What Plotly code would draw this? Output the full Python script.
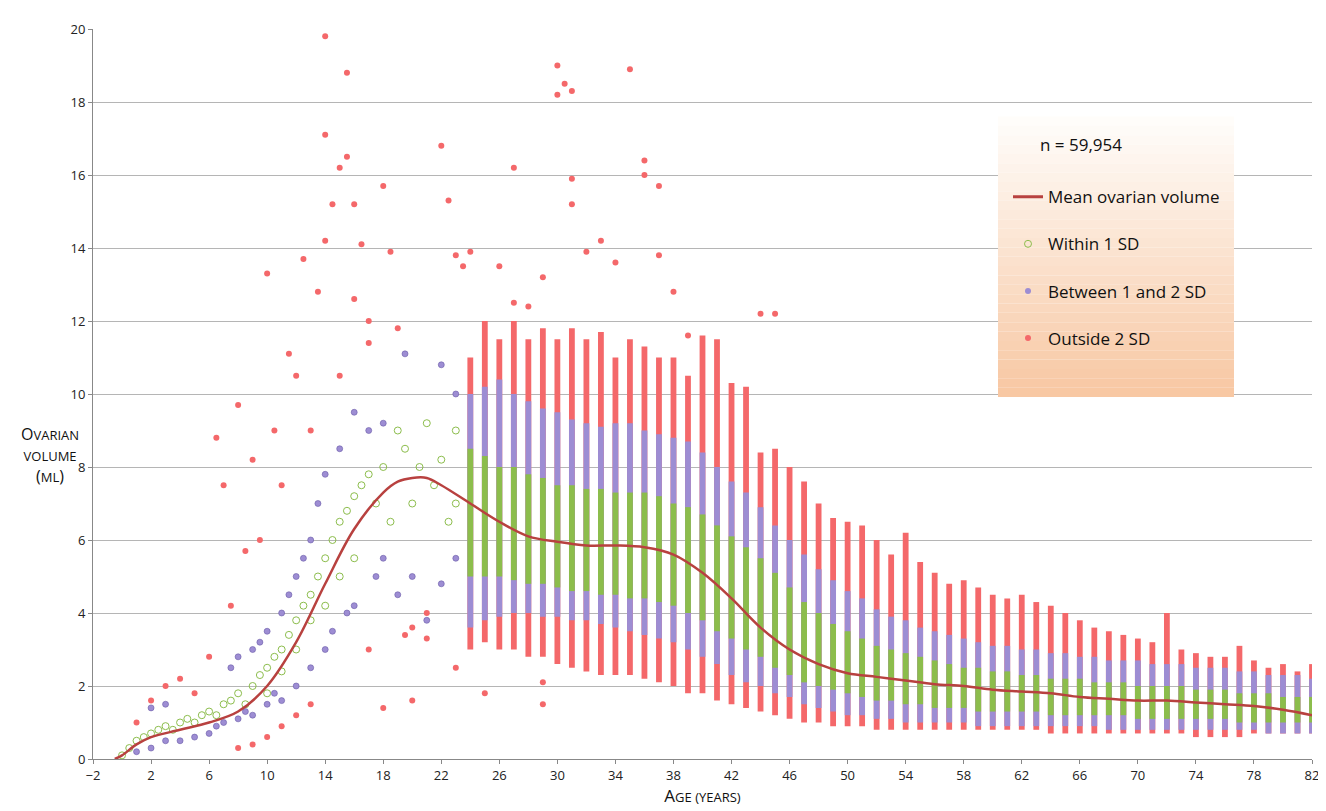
import plotly.graph_objects as go

mean_age = [-0.5,0,1,2,4,6,8,10,12,14,16,18,19,20,21,22,24,26,28,30,32,34,36,38,40,42,44,46,48,50,52,54,56,58,60,62,64,66,68,70,72,74,76,78,80,82]
mean_vol = [0,0.1,0.4,0.6,0.8,1.0,1.3,2.0,3.2,4.8,6.3,7.3,7.6,7.7,7.7,7.5,7.0,6.5,6.1,5.95,5.85,5.85,5.8,5.6,5.1,4.4,3.6,3.0,2.6,2.35,2.25,2.15,2.05,2.0,1.9,1.85,1.8,1.7,1.65,1.6,1.6,1.55,1.5,1.45,1.35,1.2]

col_age = list(range(24, 83))
green_lo = [5.0,5.0,5.0,4.9,4.8,4.8,4.7,4.6,4.6,4.5,4.5,4.4,4.4,4.3,4.2,4.0,3.8,3.5,3.3,3.0,2.8,2.5,2.3,2.1,2.0,1.9,1.8,1.7,1.6,1.6,1.5,1.5,1.4,1.4,1.4,1.3,1.3,1.3,1.3,1.3,1.2,1.2,1.2,1.2,1.2,1.2,1.1,1.1,1.1,1.1,1.1,1.1,1.1,1.0,1.0,1.0,1.0,1.0,1.0]
green_hi = [8.5,8.3,8.0,8.0,7.8,7.7,7.5,7.5,7.4,7.4,7.3,7.3,7.3,7.2,7.0,6.9,6.7,6.4,6.1,5.8,5.5,5.1,4.7,4.3,4.0,3.7,3.5,3.3,3.1,3.0,2.9,2.8,2.7,2.6,2.5,2.5,2.4,2.4,2.3,2.3,2.2,2.2,2.2,2.1,2.1,2.1,2.0,2.0,2.0,2.0,1.9,1.9,1.9,1.8,1.8,1.8,1.7,1.7,1.7]
purple_lo = [3.6,3.8,3.9,4.0,4.0,3.9,3.9,3.8,3.8,3.7,3.6,3.5,3.4,3.3,3.2,3.0,2.8,2.6,2.3,2.1,2.0,1.8,1.7,1.5,1.4,1.3,1.2,1.2,1.1,1.1,1.0,1.0,1.0,1.0,1.0,0.9,0.9,0.9,0.9,0.9,0.9,0.9,0.9,0.9,0.8,0.8,0.8,0.8,0.8,0.8,0.8,0.8,0.8,0.8,0.8,0.7,0.7,0.7,0.7]
purple_hi = [10.0,10.2,10.4,10.0,9.8,9.6,9.5,9.3,9.2,9.1,9.2,9.2,9.0,8.9,8.8,8.7,8.4,8.0,7.6,7.3,6.9,6.4,6.0,5.6,5.2,4.9,4.6,4.4,4.1,3.9,3.8,3.6,3.5,3.4,3.3,3.2,3.1,3.1,3.0,3.0,2.9,2.9,2.8,2.8,2.7,2.7,2.7,2.6,2.6,2.6,2.5,2.5,2.5,2.4,2.4,2.3,2.3,2.3,2.2]
red_lo = [3.0,3.2,3.0,3.0,2.8,2.8,2.6,2.5,2.4,2.3,2.3,2.3,2.2,2.1,2.0,1.8,1.8,1.6,1.5,1.4,1.3,1.2,1.1,1.0,1.0,0.9,0.9,0.9,0.8,0.8,0.8,0.8,0.8,0.8,0.8,0.8,0.8,0.8,0.8,0.8,0.7,0.7,0.7,0.7,0.7,0.7,0.7,0.7,0.7,0.7,0.6,0.6,0.6,0.6,0.7,0.7,0.7,0.7,0.7]
red_hi = [11.0,12.0,11.5,12.0,11.5,11.8,11.5,11.8,11.5,11.7,11.0,11.5,11.3,11.0,11.0,10.5,11.6,11.5,10.3,10.2,8.4,8.5,8.0,7.6,7.0,6.6,6.5,6.4,6.0,5.6,6.2,5.4,5.1,4.8,4.9,4.7,4.5,4.4,4.5,4.3,4.2,4.0,3.8,3.6,3.5,3.4,3.3,3.2,4.0,3.0,2.9,2.8,2.8,3.1,2.7,2.5,2.6,2.4,2.6]

green_x = [0,0.5,1,1.5,2,2.5,3,3.5,4,4.5,5,5.5,6,6.5,7,7.5,8,8.5,9,9.5,10,10,10.5,11,11,11.5,12,12,12.5,13,13,13.5,14,14,14.5,15,15,15.5,16,16,16.5,17,17.5,18,18.5,19,19.5,20,20.5,21,21.5,22,22.5,23,23]
green_y = [0.1,0.3,0.5,0.6,0.7,0.8,0.9,0.8,1.0,1.1,1.0,1.2,1.3,1.2,1.5,1.6,1.8,1.5,2.0,2.3,2.5,1.8,2.8,3.0,2.4,3.4,3.8,3.0,4.2,4.5,3.8,5.0,5.5,4.2,6.0,6.5,5.0,6.8,7.2,5.5,7.5,7.8,7.0,8.0,6.5,9.0,8.5,7.0,8.0,9.2,7.5,8.2,6.5,9.0,7.0]
purple_x = [1,2,3,4,5,6,6.5,7,7.5,8,8,8.5,9,9,9.5,10,10,10.5,11,11,11.5,12,12,12.5,13,13,13.5,14,14,14.5,15,15.5,16,16,17,17.5,18,18,19,19.5,20,21,22,22,23,23,3,2]
purple_y = [0.2,0.3,0.5,0.5,0.6,0.7,0.9,1.0,2.5,1.1,2.8,1.3,3.0,1.2,3.2,1.5,3.5,1.8,4.0,1.6,4.5,2.0,5.0,5.5,2.5,6.0,7.0,3.0,7.8,3.5,8.5,4.0,9.5,4.2,9.0,5.0,9.2,5.5,4.5,11.1,5.0,3.8,10.8,4.8,5.5,10.0,1.5,1.4]
red_x = [1,2,3,4,5,6,6.5,7,7.5,8,8,8.5,9,9,9.5,10,10,10.5,11,11,11.5,12,12,12.5,13,13,13.5,14,14,14,14.5,15,15,15.5,15.5,16,16,16.5,17,17,18,18.5,19,19.5,20,20,21,22,22.5,23,23.5,18,17,21,23,
         25,27,29,29,30,30,30.5,31,31,31,33,35,36,36,37,37,32,34,27,28,29,26,44,45,38,39,24]
red_y = [1.0,1.6,2.0,2.2,1.8,2.8,8.8,7.5,4.2,9.7,0.3,5.7,0.4,8.2,6.0,13.3,0.6,9.0,7.5,0.9,11.1,10.5,1.2,13.7,9.0,1.5,12.8,14.2,17.1,19.8,15.2,16.2,10.5,18.8,16.5,15.2,12.6,14.1,12.0,11.4,15.7,13.9,11.8,3.4,3.6,1.6,3.3,16.8,15.3,13.8,13.5,1.4,3.0,4.0,2.5,
         1.8,16.2,1.5,2.1,19.0,18.2,18.5,15.2,15.9,18.3,14.2,18.9,16.4,16.0,15.7,13.8,13.9,13.6,12.5,12.4,13.2,13.5,12.2,12.2,12.8,11.6,13.9]

RED = "#f4686a"; PURPLE = "#9d8dd3"; GREEN = "#8cbd4c"; LINE = "#b8413f"
L, R, T, B = 85, 22, 17, 60
PW, PH = 1326 - L - R, 811 - T - B

fig = go.Figure()
w = 0.4
fig.add_bar(x=col_age, y=[h - l for l, h in zip(red_lo, red_hi)], base=red_lo, width=w,
            marker=dict(color=RED, line=dict(width=0)), showlegend=False)
fig.add_bar(x=col_age, y=[h - l for l, h in zip(purple_lo, purple_hi)], base=purple_lo, width=w,
            marker=dict(color=PURPLE, line=dict(width=0)), showlegend=False)
fig.add_bar(x=col_age, y=[h - l for l, h in zip(green_lo, green_hi)], base=green_lo, width=w,
            marker=dict(color=GREEN, line=dict(width=0)), showlegend=False)
fig.add_scatter(x=red_x, y=red_y, mode="markers", marker=dict(color=RED, size=6), showlegend=False)
fig.add_scatter(x=purple_x, y=purple_y, mode="markers",
                marker=dict(color=PURPLE, size=6, line=dict(color="#6a5aa8", width=0.6)), showlegend=False)
fig.add_scatter(x=green_x, y=green_y, mode="markers",
                marker=dict(color="rgba(0,0,0,0)", size=7, line=dict(color=GREEN, width=1)), showlegend=False)
fig.add_scatter(x=mean_age, y=mean_vol, mode="lines", line=dict(color=LINE, width=2.5, shape="spline"), showlegend=False)

fig.add_scatter(x=[None], y=[None], mode="lines", line=dict(color=LINE, width=3), name="Mean ovarian volume", legendgroup="a")
fig.add_scatter(x=[None], y=[None], mode="markers", marker=dict(color="rgba(0,0,0,0)", size=7, line=dict(color=GREEN, width=1)), name="Within 1 SD", legendgroup="b")
fig.add_scatter(x=[None], y=[None], mode="markers", marker=dict(color=PURPLE, size=6), name="Between 1 and 2 SD", legendgroup="c")
fig.add_scatter(x=[None], y=[None], mode="markers", marker=dict(color=RED, size=6), name="Outside 2 SD", legendgroup="d")

def px(xp): return (xp - L) / PW
def py(yp): return (811 - B - yp) / PH

shapes = []
n = 30
x0, x1, y0, y1 = 990, 1226, 105, 387
for i in range(n):
    t = i / (n - 1)
    r = int(255 + (248 - 255) * t); g = int(253 + (200 - 253) * t); b = int(250 + (163 - 250) * t)
    shapes.append(dict(type="rect", xref="paper", yref="paper", x0=px(x0), x1=px(x1),
                       y0=py(y0 + (y1 - y0) * (i + 1) / n), y1=py(y0 + (y1 - y0) * i / n),
                       fillcolor=f"rgb({r},{g},{b})", line=dict(width=0), layer="above"))

fig.update_layout(
    width=1326, height=811, margin=dict(l=L, r=R, t=T, b=B),
    plot_bgcolor="white", paper_bgcolor="white", barmode="overlay",
    font=dict(family="Open Sans, DejaVu Sans", size=13, color="#222"),
    shapes=shapes,
    legend=dict(x=px(1000), y=py(168), xanchor="left", yanchor="top",
                bgcolor="rgba(0,0,0,0)", font=dict(size=17, color="#111"), tracegroupgap=22),
    annotations=[
        dict(text="n = 59,954", xref="paper", yref="paper", x=px(1030), y=py(133),
             xanchor="left", yanchor="middle", showarrow=False, font=dict(size=17, color="#111")),
        dict(text="O<span style='font-size:13px'>VARIAN</span><br><span style='font-size:13px'>VOLUME</span><br>(<span style='font-size:13px'>ML</span>)",
             xref="paper", yref="paper", x=px(42), y=py(445), xanchor="center", yanchor="middle",
             showarrow=False, font=dict(size=16, color="#111"), align="center"),
    ],
)
fig.update_xaxes(range=[-2, 82], tickvals=list(range(-2, 83, 4)), showgrid=False, zeroline=False,
                 showline=True, linecolor="#888", ticks="outside", ticklen=4, tickcolor="#888",
                 title=dict(text="A<span style='font-size:13px'>GE (YEARS)</span>", font=dict(size=17, color="#111"), standoff=4))
fig.update_yaxes(range=[0, 20], dtick=2, showgrid=True, gridcolor="#b5b5b5", zeroline=False,
                 showline=True, linecolor="#888", ticks="outside", ticklen=4, tickcolor="#888")
fig.write_html("out.html")
